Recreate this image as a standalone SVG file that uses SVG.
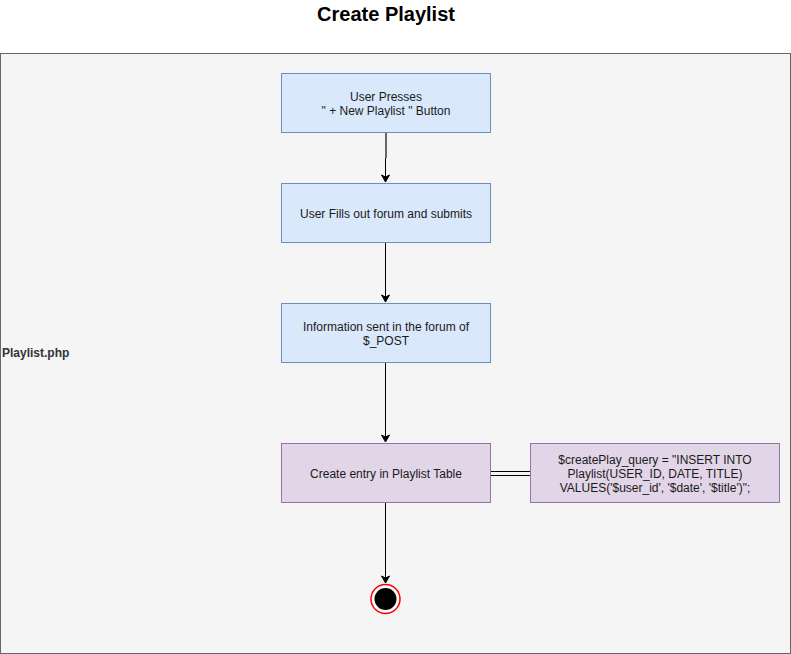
<svg xmlns="http://www.w3.org/2000/svg" width="791" height="654" viewBox="0 0 791 654">
<defs>
<marker id="arr" markerWidth="10" markerHeight="10" refX="8" refY="5" orient="auto" markerUnits="userSpaceOnUse">
<path d="M1,1 L8,5 L1,9 L3,5 Z" fill="#000" stroke="#000"/>
</marker>
<style>
.t{font-family:"Liberation Sans",Arial,sans-serif;font-size:12px;fill:#1a1a1a;text-anchor:middle}
.blue{fill:#dae8fc;stroke:#6c8ebf;stroke-width:1}
.purple{fill:#e1d5e7;stroke:#9673a6;stroke-width:1}
.edge{fill:none;stroke:#000;stroke-width:1}
</style>
</defs>
<text x="386" y="21" style="font-family:'Liberation Sans',Arial,sans-serif;font-size:20px;font-weight:bold;text-anchor:middle;fill:#000">Create Playlist</text>
<g id="container">
<rect x="0.5" y="53.5" width="790" height="600" fill="#f5f5f5" stroke="#666666"/>
<text x="2" y="357" style="font-family:'Liberation Sans',Arial,sans-serif;font-size:12px;font-weight:bold;fill:#333">Playlist.php</text>
</g>
<g id="connectors">
<path d="M386,133 V158" stroke="#666" stroke-width="2" fill="none"/>
<path class="edge" d="M385.5,158 V182" marker-end="url(#arr)"/>
<path class="edge" d="M385.5,243 V302" marker-end="url(#arr)"/>
<path class="edge" d="M385.5,363 V442" marker-end="url(#arr)"/>
<path class="edge" d="M385.5,503 V583" marker-end="url(#arr)"/>
<path class="edge" d="M491,471.5 H530 M491,475.5 H530"/>
</g>
<g id="n1">
<rect class="blue" x="281.5" y="73.5" width="209" height="59"/>
<text class="t" x="386" y="101">User Presses</text>
<text class="t" x="386" y="115">" + New Playlist " Button</text>
</g>
<g id="n2">
<rect class="blue" x="281.5" y="183.5" width="209" height="59"/>
<text class="t" x="386" y="218">User Fills out forum and submits</text>
</g>
<g id="n3">
<rect class="blue" x="281.5" y="303.5" width="209" height="59"/>
<text class="t" x="386" y="331">Information sent in the forum of</text>
<text class="t" x="386" y="345">$_POST</text>
</g>
<g id="n4">
<rect class="purple" x="281.5" y="443.5" width="209" height="59"/>
<text class="t" x="386" y="478">Create entry in Playlist Table</text>
</g>
<g id="n5">
<rect class="purple" x="530.5" y="443.5" width="249" height="59"/>
<text class="t" x="655" y="464">$createPlay_query = "INSERT INTO</text>
<text class="t" x="655" y="478">Playlist(USER_ID, DATE, TITLE)</text>
<text class="t" x="655" y="492">VALUES('$user_id', '$date', '$title')";</text>
</g>
<g id="end">
<circle cx="385.5" cy="599" r="14.5" fill="#fff" stroke="#ff0000" stroke-width="1.5"/>
<circle cx="385.5" cy="599" r="11" fill="#000"/>
</g>
</svg>
